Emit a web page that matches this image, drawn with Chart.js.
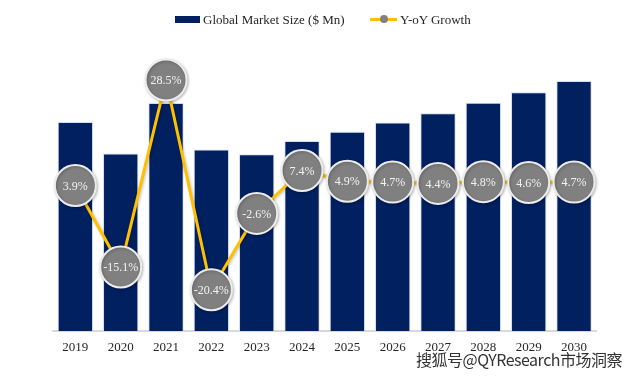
<!DOCTYPE html>
<html>
<head>
<meta charset="utf-8">
<script src="https://cdn.jsdelivr.net/npm/chart.js@4/dist/chart.umd.min.js"></script>
<style>
  html,body{margin:0;padding:0;background:#fff;}
  #wrap{position:relative;width:644px;height:379px;overflow:hidden;}
  canvas{position:absolute;left:0;top:0;}
  .lg{position:absolute;font-family:"Liberation Serif","Times New Roman",serif;font-size:13px;color:#262626;line-height:13px;white-space:nowrap;}
  .sw{position:absolute;}
  #wm{position:absolute;left:416px;top:349px;font-family:"Noto Sans CJK SC",sans-serif;font-size:16px;line-height:20px;color:#333;white-space:nowrap;
      text-shadow:-1px 0 #fff,1px 0 #fff,0 -1px #fff,0 1px #fff,0 0 2px #fff;letter-spacing:-0.5px;}
</style>
</head>
<body>
<div id="wrap">
  <canvas id="c" width="644" height="379"></canvas>
  <div class="sw" style="left:175px;top:16px;width:25px;height:7px;background:#002060;"></div>
  <div class="lg" style="left:203px;top:13px;">Global Market Size ($ Mn)</div>
  <div class="sw" style="left:370px;top:18px;width:27px;height:3px;background:#FFC000;"></div>
  <div class="sw" style="left:380px;top:15px;width:8px;height:8px;border-radius:50%;background:#808080;"></div>
  <div class="lg" style="left:400px;top:13px;">Y-oY Growth</div>
  <div id="wm">搜狐号@QYResearch市场洞察</div>
</div>
<script>
const years = ["2019","2020","2021","2022","2023","2024","2025","2026","2027","2028","2029","2030"];
const marketSize = [209, 177.4, 228.0, 181.5, 176.8, 189.9, 199.2, 208.6, 217.8, 228.2, 238.7, 249.9];
const yoyGrowth = [3.9, -15.1, 28.5, -20.4, -2.6, 7.4, 4.9, 4.7, 4.4, 4.8, 4.6, 4.7];
const growthLabels = ["3.9%","-15.1%","28.5%","-20.4%","-2.6%","7.4%","4.9%","4.7%","4.4%","4.8%","4.6%","4.7%"];

const labelPlugin = {
  id: 'pointLabels',
  afterDatasetsDraw(chart) {
    const meta = chart.getDatasetMeta(1);
    const ctx = chart.ctx;
    ctx.save();
    ctx.font = '12px "Liberation Serif", "Times New Roman", serif';
    ctx.fillStyle = '#f2f2f2';
    ctx.textAlign = 'center';
    ctx.textBaseline = 'middle';
    meta.data.forEach((pt, i) => {
      ctx.fillText(growthLabels[i], pt.x, pt.y + 1);
    });
    ctx.restore();
  }
};
const shadowPlugin = {
  id: 'ptShadow',
  beforeDatasetDraw(chart, args) {
    if (args.index === 1) {
      chart.ctx.save();
      chart.ctx.shadowColor = 'rgba(0,0,0,0.25)';
      chart.ctx.shadowBlur = 3;
      chart.ctx.shadowOffsetX = 1;
      chart.ctx.shadowOffsetY = 1;
    }
  },
  afterDatasetDraw(chart, args) {
    if (args.index === 1) chart.ctx.restore();
  }
};

new Chart(document.getElementById('c'), {
  data: {
    labels: years,
    datasets: [
      {
        type: 'bar',
        label: 'Global Market Size ($ Mn)',
        data: marketSize,
        backgroundColor: '#002060',
        borderColor: 'rgba(205,218,238,0.9)',
        borderWidth: 1,
        barPercentage: 0.78,
        categoryPercentage: 1,
        yAxisID: 'y',
        order: 2
      },
      {
        type: 'line',
        label: 'Y-oY Growth',
        data: yoyGrowth,
        borderColor: '#FFC000',
        borderWidth: 3,
        pointRadius: 20.5,
        pointBackgroundColor: '#808080',
        pointBorderColor: '#ececec',
        pointBorderWidth: 2,
        tension: 0,
        yAxisID: 'y2',
        order: 1
      }
    ]
  },
  options: {
    responsive: false,
    animation: false,
    events: [],
    layout: { padding: { left: 52.7, right: 47.3, top: 39.2, bottom: 0 } },
    plugins: { legend: { display: false }, tooltip: { enabled: false } },
    scales: {
      x: {
        offset: true,
        grid: { display: false, drawTicks: false },
        border: { display: true, color: '#d9d9d9', width: 2 },
        ticks: { color: '#262626', padding: 9, font: { family: '"Liberation Serif", "Times New Roman", serif', size: 13 } },
        afterFit(scale) { scale.height = 48; }
      },
      y: { display: false, min: 0, max: 291.8 },
      y2: { display: false, min: -30, max: 38 }
    }
  },
  plugins: [shadowPlugin, labelPlugin]
});
</script>
</body>
</html>
